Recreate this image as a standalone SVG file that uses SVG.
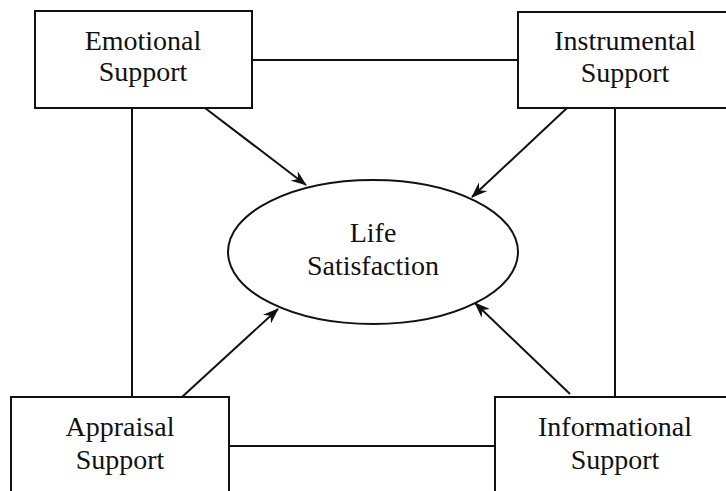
<svg xmlns="http://www.w3.org/2000/svg" width="726" height="491" viewBox="0 0 726 491">
<style>
.box{fill:#fff;stroke:#111;stroke-width:2}
.ln{fill:none;stroke:#111;stroke-width:2}
.t{font-family:"Liberation Serif","Times New Roman",serif;font-size:28px;fill:#111;text-anchor:middle}
</style>
<defs>
<marker id="ah" viewBox="0 0 16 12" refX="15" refY="6" markerWidth="16" markerHeight="12" markerUnits="userSpaceOnUse" orient="auto">
<path d="M0,0 L16,6 L0,12 L5,6 Z" fill="#111"/>
</marker>
</defs>
<rect width="726" height="491" fill="#fff"/>
<g id="connectors">
<line class="ln" x1="252" y1="60" x2="518" y2="60"/>
<line class="ln" x1="132" y1="108" x2="132" y2="397"/>
<line class="ln" x1="615" y1="108" x2="615" y2="397"/>
<line class="ln" x1="229" y1="446" x2="495" y2="446"/>
<line class="ln" x1="205" y1="108" x2="306" y2="185" marker-end="url(#ah)"/>
<line class="ln" x1="567" y1="108" x2="472" y2="197" marker-end="url(#ah)"/>
<line class="ln" x1="182" y1="397" x2="278" y2="309" marker-end="url(#ah)"/>
<line class="ln" x1="570" y1="394" x2="475" y2="303" marker-end="url(#ah)"/>
</g>
<g id="emotional">
<rect class="box" x="35" y="11" width="217" height="97"/>
<text class="t" x="143" y="50">Emotional</text>
<text class="t" x="143" y="81">Support</text>
</g>
<g id="instrumental">
<rect class="box" x="518" y="12" width="214" height="96"/>
<text class="t" x="625" y="50">Instrumental</text>
<text class="t" x="625" y="82">Support</text>
</g>
<g id="life">
<ellipse class="box" cx="373" cy="252" rx="145" ry="72"/>
<text class="t" x="373" y="242">Life</text>
<text class="t" x="373" y="275">Satisfaction</text>
</g>
<g id="appraisal">
<rect class="box" x="11" y="397" width="218" height="100"/>
<text class="t" x="120" y="436">Appraisal</text>
<text class="t" x="120" y="469">Support</text>
</g>
<g id="informational">
<rect class="box" x="495" y="397" width="237" height="100"/>
<text class="t" x="615" y="436">Informational</text>
<text class="t" x="615" y="469">Support</text>
</g>
</svg>
